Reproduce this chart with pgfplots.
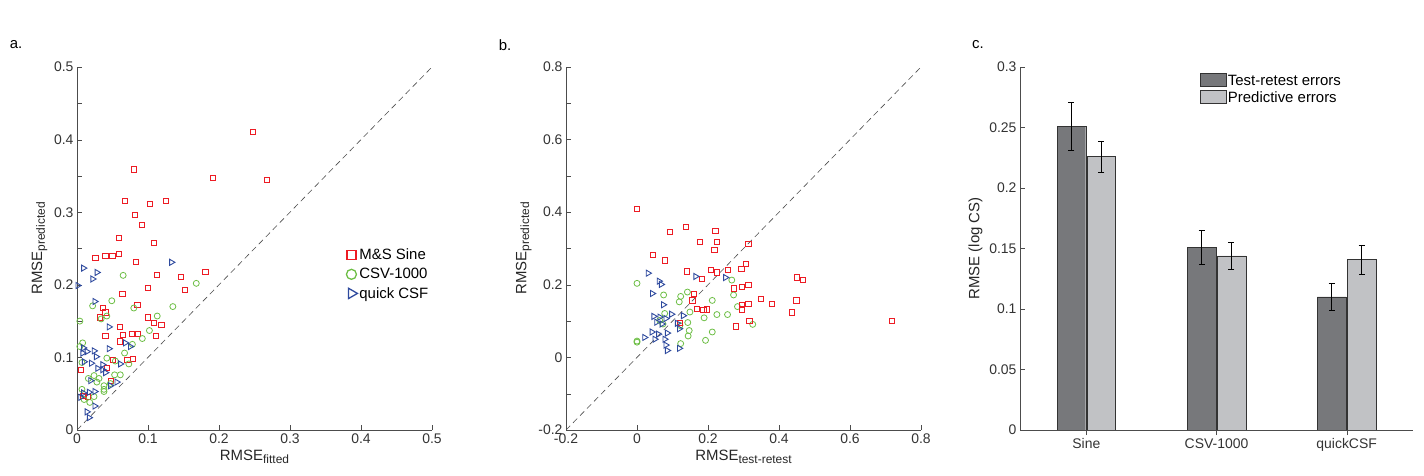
\documentclass[border=0pt]{standalone}
\usepackage{pgfplots}
\pgfplotsset{compat=1.18}
\usepackage{fontspec}
\setmainfont{Liberation Sans}
\definecolor{mred}{HTML}{ED1C24}
\definecolor{mgreen}{HTML}{6DBE45}
\definecolor{mblue}{HTML}{2E4A9E}
\definecolor{dbar}{HTML}{77787B}
\definecolor{lbar}{HTML}{C1C2C5}
\newcommand{\sub}[1]{\raisebox{-0.35ex}{\fontsize{12}{14}\selectfont #1}}
\pgfplotsset{
  common/.style={scale only axis, axis lines*=left, tick align=inside,
    font=\fontsize{14}{16}\selectfont, tick label style={text=black!80},
    label style={font=\fontsize{15}{17}\selectfont, text=black!85},
    /pgf/number format/assume math mode=true,
    /pgf/number format/fixed, tick style={black!70}, axis line style={black!70},
    major tick length=5bp, minor tick length=5bp},
  sq/.style={only marks, mark=square, mark size=2.6bp, mred, line width=0.9pt},
  ci/.style={only marks, mark=o, mark size=3bp, mgreen, line width=0.8pt},
  tr/.style={only marks, mark=triangle, mark size=3.5bp, mblue, line width=0.9pt, mark options={rotate=-90}},
  dl/.style={black!70, dash pattern=on 6bp off 4bp, line width=0.6pt},
}
\begin{document}
\begin{tikzpicture}
\useasboundingbox (0,0) rectangle (1424bp,476bp);
\node[font=\fontsize{15}{17}\selectfont] at (16bp,431bp) {a.};
\node[font=\fontsize{15}{17}\selectfont] at (505bp,431bp) {b.};
\node[font=\fontsize{15}{17}\selectfont] at (978bp,431bp) {c.};
% panel a
\begin{axis}[common, at={(77bp,46bp)}, anchor=south west, width=355bp, height=363bp,
  xmin=0, xmax=0.5, ymin=0, ymax=0.5, xtick={0,0.1,...,0.5}, ytick={0,0.1,...,0.5},
  minor y tick num=1,
  xlabel={RMSE\sub{fitted}}, ylabel={RMSE\sub{predicted}},
  legend style={draw=none, fill=none, at={(0.75,0.51)}, anchor=north west, font=\fontsize{15}{17}\selectfont, row sep=3pt},
  legend cell align=left]
\addlegendimage{sq, mark size=4.5bp, line width=1.3pt}
\addlegendentry{M\&S Sine}
\addlegendimage{ci, mark size=5bp, line width=1.3pt}
\addlegendentry{CSV-1000}
\addlegendimage{tr, mark size=6bp, line width=1.3pt}
\addlegendentry{quick CSF}
\addplot[sq, forget plot] coordinates {
(0.248,0.410)(0.268,0.344)(0.192,0.347)(0.080,0.359)(0.068,0.316)(0.103,0.311)(0.125,0.316)
(0.082,0.296)(0.092,0.282)(0.059,0.265)(0.108,0.258)(0.026,0.237)(0.040,0.240)(0.050,0.240)
(0.059,0.242)(0.083,0.232)(0.181,0.218)(0.113,0.214)(0.146,0.211)(0.152,0.193)(0.100,0.196)
(0.064,0.187)(0.085,0.172)(0.037,0.168)(0.040,0.162)(0.032,0.155)(0.100,0.155)(0.061,0.142)
(0.108,0.147)(0.119,0.145)(0.040,0.129)(0.065,0.131)(0.078,0.132)(0.085,0.132)(0.111,0.129)
(0.061,0.122)(0.051,0.097)(0.071,0.096)(0.079,0.098)(0.006,0.083)(0.042,0.085)(0.048,0.068)
(0.009,0.047)(0.015,0.045)};
\addplot[ci, forget plot] coordinates {
(0.065,0.213)(0.168,0.202)(0.022,0.171)(0.049,0.178)(0.080,0.168)(0.135,0.170)(0.004,0.150)
(0.034,0.153)(0.042,0.157)(0.113,0.157)(0.102,0.137)(0.092,0.126)(0.008,0.120)(0.004,0.115)
(0.078,0.118)(0.067,0.106)(0.007,0.093)(0.042,0.099)(0.054,0.095)(0.073,0.091)(0.024,0.075)
(0.016,0.071)(0.053,0.076)(0.061,0.076)(0.031,0.071)(0.038,0.061)(0.038,0.056)(0.038,0.053)
(0.007,0.056)(0.024,0.046)(0.018,0.038)(0.010,0.042)(0.047,0.064)(0.028,0.066)};
\addplot[tr, forget plot] coordinates {
(0.009,0.223)(0.028,0.217)(0.022,0.208)(0.001,0.199)(0.133,0.231)(0.025,0.177)(0.045,0.142)
(0.045,0.112)(0.009,0.113)(0.008,0.106)(0.014,0.108)(0.024,0.109)(0.027,0.101)(0.068,0.120)
(0.075,0.115)(0.010,0.094)(0.020,0.092)(0.036,0.090)(0.061,0.091)(0.029,0.085)(0.036,0.083)
(0.040,0.079)(0.019,0.068)(0.047,0.061)(0.056,0.066)(0.005,0.045)(0.009,0.051)(0.017,0.052)
(0.025,0.053)(0.014,0.025)(0.025,0.033)(0.017,0.017)};
\addplot[dl, forget plot] coordinates {(0,0)(0.5,0.5)};
\end{axis}
% panel b
\begin{axis}[common, at={(566bp,46bp)}, anchor=south west, width=355bp, height=363bp,
  xmin=-0.2, xmax=0.8, ymin=-0.2, ymax=0.8, xtick={-0.2,0,...,0.8}, ytick={-0.2,0,...,0.8},
  minor y tick num=1,
  xlabel={RMSE\sub{test-retest}}, ylabel={RMSE\sub{predicted}}]
\addplot[dl] coordinates {(-0.2,-0.2)(0.8,0.8)};
\addplot[ci] coordinates {
(0.0,0.204)(0.267,0.213)(0.075,0.172)(0.123,0.168)(0.142,0.180)(0.119,0.153)(0.212,0.157)
(0.272,0.172)(0.283,0.140)(0.149,0.125)(0.078,0.121)(0.189,0.109)(0.225,0.118)(0.255,0.118)
(0.143,0.096)(0.326,0.091)(0.073,0.092)(0.147,0.074)(0.144,0.059)(0.212,0.070)(0.123,0.038)
(0.193,0.047)(0.0,0.045)(0.0,0.042)(0.121,0.088)(0.064,0.102)};
\addplot[sq] coordinates {
(0.0,0.410)(0.092,0.345)(0.138,0.359)(0.221,0.348)(0.177,0.318)(0.225,0.318)(0.218,0.297)
(0.314,0.312)(0.045,0.282)(0.078,0.267)(0.141,0.237)(0.209,0.241)(0.225,0.234)(0.257,0.241)
(0.294,0.243)(0.306,0.258)(0.183,0.216)(0.451,0.220)(0.467,0.214)(0.272,0.190)(0.296,0.195)
(0.314,0.199)(0.161,0.174)(0.156,0.157)(0.349,0.162)(0.379,0.147)(0.449,0.157)(0.296,0.145)
(0.314,0.147)(0.296,0.132)(0.168,0.133)(0.187,0.130)(0.196,0.132)(0.436,0.124)(0.317,0.100)
(0.279,0.085)(0.717,0.100)(0.121,0.095)};
\addplot[tr] coordinates {
(0.031,0.232)(0.062,0.210)(0.068,0.201)(0.165,0.223)(0.249,0.220)(0.043,0.176)(0.074,0.145)
(0.047,0.113)(0.064,0.111)(0.081,0.107)(0.097,0.119)(0.130,0.115)(0.055,0.097)(0.070,0.092)
(0.113,0.094)(0.042,0.070)(0.060,0.064)(0.085,0.067)(0.119,0.079)(0.021,0.055)(0.050,0.050)
(0.078,0.050)(0.081,0.034)(0.085,0.019)(0.119,0.025)};
\end{axis}
% panel c
\begin{axis}[common, at={(1020bp,46bp)}, anchor=south west, width=393bp, height=363bp,
  xmin=-0.51, xmax=2.51, ymin=0, ymax=0.3, ytick={0,0.05,...,0.3},
  yticklabels={0,0.05,0.1,0.15,0.2,0.25,0.3},
  xtick={0,1,2}, xticklabels={Sine,CSV-1000,quickCSF}, ylabel={RMSE (log CS)},
  ybar, bar width=0.22,
  legend style={draw=none, fill=none, at={(0.45,0.99)}, anchor=north west, font=\fontsize{15}{17}\selectfont, row sep=1pt},
  legend cell align=left,
  legend image code/.code={\draw[#1, draw=black!80] (0cm,-0.2cm) rectangle (0.9cm,0.25cm);}]
\addplot[fill=dbar, draw=black!80, bar shift=-0.115,
  error bars/.cd, y dir=both, y explicit, error bar style={black}, error mark options={rotate=90, mark size=3bp, black}]
  coordinates {(0,0.251) +- (0,0.020) (1,0.151) +- (0,0.014) (2,0.110) +- (0,0.011)};
\addlegendentry{Test-retest errors}
\addplot[fill=lbar, draw=black!80, bar shift=0.115,
  error bars/.cd, y dir=both, y explicit, error bar style={black}, error mark options={rotate=90, mark size=3bp, black}]
  coordinates {(0,0.226) +- (0,0.013) (1,0.144) +- (0,0.011) (2,0.141) +- (0,0.012)};
\addlegendentry{Predictive errors}
\end{axis}
\end{tikzpicture}
\end{document}
